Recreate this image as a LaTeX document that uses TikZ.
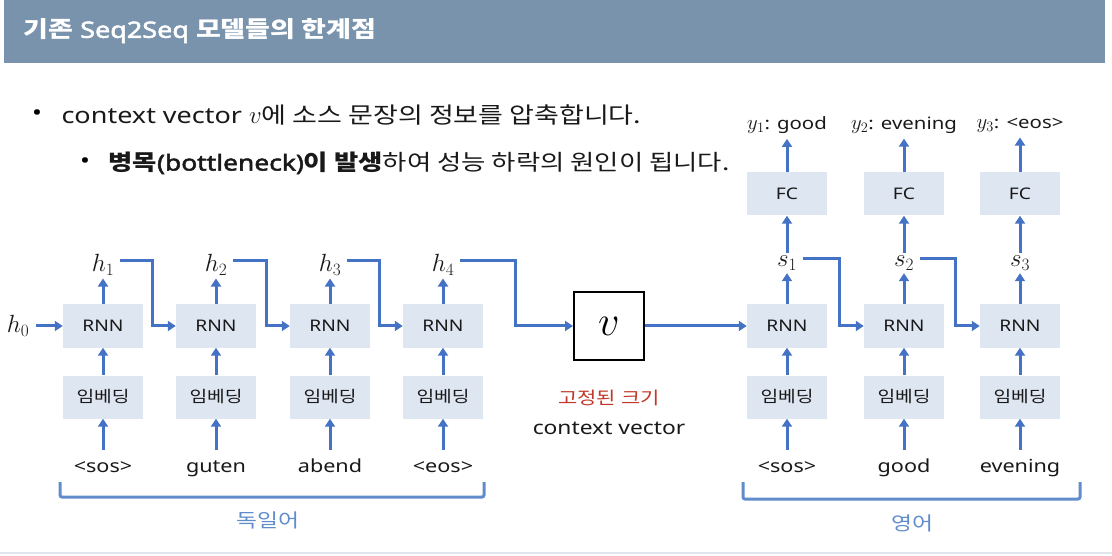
\documentclass[tikz,border=0pt]{standalone}
\usepackage{graphicx}
\usepackage[no-math]{fontspec}
\setmainfont{Noto Sans}[FakeStretch=1.2, BoldFont={Noto Sans}, BoldFeatures={FakeBold=2.2}]
\newfontfamily\kr{Noto Sans CJK KR}[FakeStretch=1.2]
\definecolor{titlebar}{RGB}{121,147,173}
\definecolor{boxfill}{RGB}{222,230,242}
\definecolor{flowblue}{RGB}{68,114,196}
\definecolor{braceblue}{RGB}{96,140,204}
\definecolor{fixred}{RGB}{192,57,43}
\definecolor{txtdark}{RGB}{25,25,25}
\definecolor{rulegray}{RGB}{224,229,236}
\usetikzlibrary{arrows.meta,positioning,calc}

\begin{document}
\begin{tikzpicture}[x=1pt, y=-1pt,
  blk/.style={fill=boxfill, minimum width=80pt, minimum height=43pt, inner sep=0pt, font=\fontsize{16}{18}\selectfont, text=txtdark},
  flow/.style={draw=flowblue, line width=3pt, -{Triangle[length=8pt,width=10pt]}},
  wrd/.style={font=\fontsize{18}{22}\selectfont, text=txtdark, text height=14pt, text depth=4pt, outer sep=5pt},
  hid/.style={font=\fontsize{24}{28}\selectfont, text=txtdark, inner sep=1pt, outer sep=2pt},
  outl/.style={font=\fontsize{17}{20}\selectfont, text=txtdark, outer sep=2pt},
  brace/.style={draw=braceblue, line width=3pt, rounded corners=2pt}]
  \useasboundingbox (0,0) rectangle (1112,556);
  % Title bar
  \fill[titlebar] (4,0) rectangle (1105,63);
  \node[anchor=west, text=white, font=\fontsize{22.5}{26}\selectfont\bfseries] (title) at (20,31) {{\kr 기존} Seq2Seq {\kr 모델들의 한계점}};
  % Bullets
  \node[font=\fontsize{22}{26}\selectfont] (d1) at (37,115) {•};
  \node[anchor=west, font=\fontsize{22.5}{26}\selectfont, text=txtdark] (b1) at (58,115) {context vector {\fontsize{25}{28}\selectfont$v$}{\kr 에 소스 문장의 정보를 압축합니다.}};
  \node[font=\fontsize{22}{26}\selectfont] (d2) at (85,163) {•};
  \node[anchor=west, font=\fontsize{22}{26}\selectfont, text=txtdark] (b2) at (105,163) {{\kr\bfseries 병목}\textbf{(bottleneck)}{\kr\bfseries 이 발생}{\kr 하여 성능 하락의 원인이 됩니다.}};
  % Encoder (German)
  \node[hid] (h0) at (18,326) {$h_0$};
  \node[blk] (er1) at (103,326) {RNN};
  \node[blk] (ee1) at (103,397) {{\kr 임베딩}};
  \node[wrd] (ew1) at (103,467) {<sos>};
  \node[hid] (h1) at (103,265) {$h_1$};
  \node[blk] (er2) at (216,326) {RNN};
  \node[blk] (ee2) at (216,397) {{\kr 임베딩}};
  \node[wrd] (ew2) at (216,467) {guten};
  \node[hid] (h2) at (216,265) {$h_2$};
  \node[blk] (er3) at (330,326) {RNN};
  \node[blk] (ee3) at (330,397) {{\kr 임베딩}};
  \node[wrd] (ew3) at (330,467) {abend};
  \node[hid] (h3) at (330,265) {$h_3$};
  \node[blk] (er4) at (443,326) {RNN};
  \node[blk] (ee4) at (443,397) {{\kr 임베딩}};
  \node[wrd] (ew4) at (443,467) {<eos>};
  \node[hid] (h4) at (443,265) {$h_4$};
  \draw[flow] (ew1) -- (ee1); \draw[flow] (ee1) -- (er1); \draw[flow] (er1) -- (h1);
  \draw[flow] (ew2) -- (ee2); \draw[flow] (ee2) -- (er2); \draw[flow] (er2) -- (h2);
  \draw[flow] (ew3) -- (ee3); \draw[flow] (ee3) -- (er3); \draw[flow] (er3) -- (h3);
  \draw[flow] (ew4) -- (ee4); \draw[flow] (ee4) -- (er4); \draw[flow] (er4) -- (h4);
  \draw[flow, shorten <=4pt] (h0) -- (er1);
  \draw[flow] ([xshift=3pt,yshift=4pt]h1.east) -| ([xshift=-23pt]er2.west) -- (er2.west);
  \draw[flow] ([xshift=3pt,yshift=4pt]h2.east) -| ([xshift=-23pt]er3.west) -- (er3.west);
  \draw[flow] ([xshift=3pt,yshift=4pt]h3.east) -| ([xshift=-23pt]er4.west) -- (er4.west);
  % Context vector
  \node[draw=black, line width=2pt, minimum width=70pt, minimum height=68pt, inner sep=0pt, font=\fontsize{24}{28}\selectfont] (vb) at (609,326) {\scalebox{1.7}{$v$}};
  \draw[flow] ([xshift=3pt,yshift=4pt]h4.east) -| ([xshift=-58pt]vb.west) -- (vb.west);
  \node[text=fixred, font=\kr\fontsize{17.5}{21}\selectfont] (fixed) at (609,398) {고정된 크기};
  \node[text=txtdark, font=\fontsize{19}{22}\selectfont] (ctx) at (609,428) {context vector};
  % Decoder (English)
  \node[blk] (dr1) at (787,326) {RNN};
  \node[blk] (de1) at (787,397) {{\kr 임베딩}};
  \node[wrd] (dw1) at (787,467) {<sos>};
  \node[hid] (s1) at (787,263) {$s_1$};
  \node[blk] (fc1) at (787,194) {FC};
  \node[outl] (y1) at (787,125) {{\fontsize{21}{24}\selectfont$y_1$}: good};
  \node[blk] (dr2) at (904,326) {RNN};
  \node[blk] (de2) at (904,397) {{\kr 임베딩}};
  \node[wrd] (dw2) at (904,467) {good};
  \node[hid] (s2) at (904,263) {$s_2$};
  \node[blk] (fc2) at (904,194) {FC};
  \node[outl] (y2) at (904,125) {{\fontsize{21}{24}\selectfont$y_2$}: evening};
  \node[blk] (dr3) at (1020,326) {RNN};
  \node[blk] (de3) at (1020,397) {{\kr 임베딩}};
  \node[wrd] (dw3) at (1020,467) {evening};
  \node[hid] (s3) at (1020,263) {$s_3$};
  \node[blk] (fc3) at (1020,194) {FC};
  \node[outl] (y3) at (1020,125) {{\fontsize{21}{24}\selectfont$y_3$}: <eos>};
  \draw[flow] (dw1) -- (de1); \draw[flow] (de1) -- (dr1); \draw[flow] (dr1) -- (s1); \draw[flow] (s1) -- (fc1); \draw[flow] (fc1) -- (y1);
  \draw[flow] (dw2) -- (de2); \draw[flow] (de2) -- (dr2); \draw[flow] (dr2) -- (s2); \draw[flow] (s2) -- (fc2); \draw[flow] (fc2) -- (y2);
  \draw[flow] (dw3) -- (de3); \draw[flow] (de3) -- (dr3); \draw[flow] (dr3) -- (s3); \draw[flow] (s3) -- (fc3); \draw[flow] (fc3) -- (y3);
  \draw[flow] (vb) -- (dr1);
  \draw[flow] ([xshift=3pt,yshift=4pt]s1.east) -| ([xshift=-24pt]dr2.west) -- (dr2.west);
  \draw[flow] ([xshift=3pt,yshift=4pt]s2.east) -| ([xshift=-24pt]dr3.west) -- (dr3.west);
  % Language brackets
  \draw[brace] (60,482) |- (484,497) -- (484,482);
  \node[text=braceblue, font=\kr\fontsize{19}{22}\selectfont] (german) at (268,520) {독일어};
  \draw[brace] (743,482) |- (1080,499) -- (1080,482);
  \node[text=braceblue, font=\kr\fontsize{19}{22}\selectfont] (english) at (912,523) {영어};
  % Bottom rule
  \draw[rulegray, line width=1.5pt] (0,553) -- (1112,553);
\end{tikzpicture}
\end{document}
